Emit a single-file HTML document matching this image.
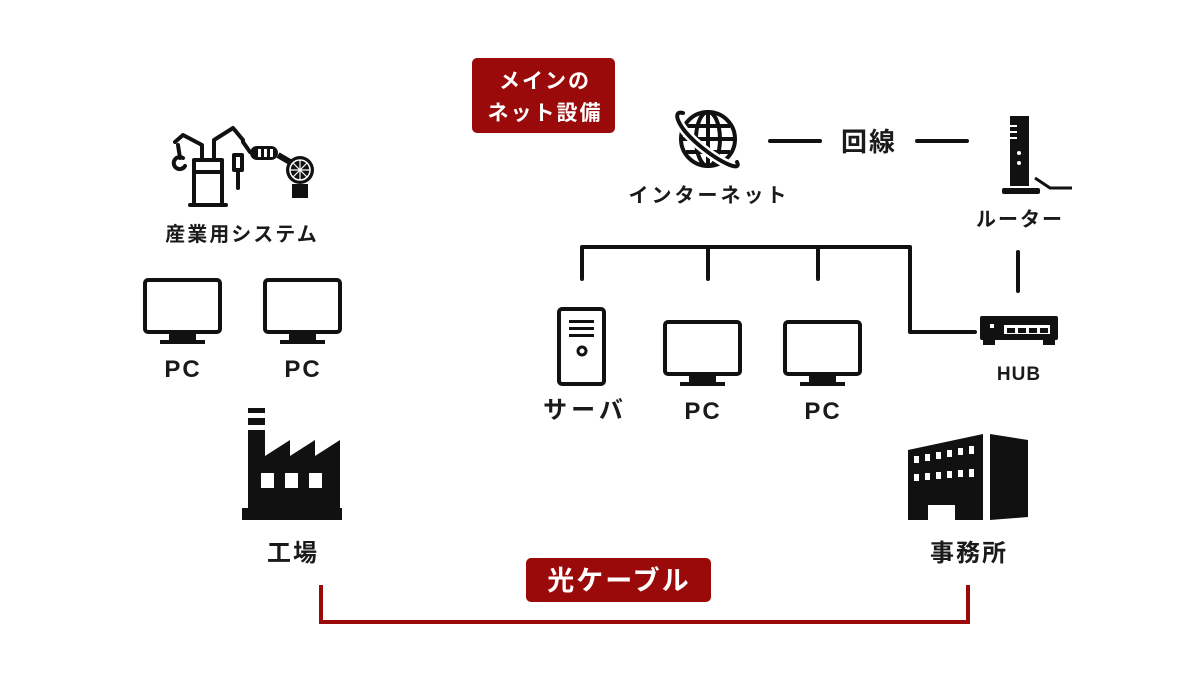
<!DOCTYPE html>
<html><head><meta charset="utf-8"><style>
html,body{margin:0;padding:0;background:#fff}
svg{display:block}
text{font-family:"Liberation Sans","Noto Sans CJK JP",sans-serif;font-weight:bold;fill:#1a1a1a;text-anchor:middle}
.ls{letter-spacing:2px}
</style></head><body>
<svg width="1200" height="680" viewBox="0 0 1200 680" xmlns="http://www.w3.org/2000/svg">
<rect x="472" y="58" width="143" height="75" rx="5" fill="#9b0a0a"/>
<text x="545" y="88" font-size="21" class="ls" style="fill:#fff">メインの</text>
<text x="545" y="120" font-size="21" class="ls" style="fill:#fff">ネット設備</text>
<rect x="526" y="558" width="185" height="44" rx="5" fill="#9b0a0a"/>
<text x="619" y="590" font-size="27" class="ls" style="fill:#fff">光ケーブル</text>
<polyline points="321,585 321,622 968,622 968,585" fill="none" stroke="#9b0a0a" stroke-width="4"/>

<g fill="none" stroke="#111" stroke-width="4" stroke-linecap="round" stroke-linejoin="round">
<rect x="194" y="160" width="28" height="45"/>
<line x1="194" y1="172" x2="222" y2="172"/>
<line x1="190" y1="205" x2="226" y2="205"/>
<path d="M202 160 V145 L183 135 L175 142"/>
<path d="M214 160 V140 L233 128 L243 140"/>
<path d="M178 145 L180 158 M183 158 a6 6 0 1 0 2 8"/>
<rect x="234" y="155" width="8" height="15"/>
<line x1="238" y1="170" x2="238" y2="188"/>
<line x1="243" y1="142" x2="250" y2="152"/>
</g>
<rect x="250" y="146" width="28" height="14" rx="7" fill="#111"/>
<rect x="258" y="149" width="3" height="8" fill="#fff"/><rect x="264" y="149" width="3" height="8" fill="#fff"/><rect x="270" y="149" width="3" height="8" fill="#fff"/>
<line x1="278" y1="155" x2="290" y2="162" stroke="#111" stroke-width="6"/>
<circle cx="300" cy="170" r="14" fill="#111"/>
<circle cx="300" cy="170" r="10" fill="none" stroke="#fff" stroke-width="1.5"/>
<g stroke="#fff" stroke-width="1.2"><line x1="290" y1="170" x2="310" y2="170"/><line x1="300" y1="160" x2="300" y2="180"/><line x1="293" y1="163" x2="307" y2="177"/><line x1="307" y1="163" x2="293" y2="177"/></g>
<rect x="292" y="184" width="16" height="14" fill="#111"/>
<text x="242" y="241" font-size="20" class="ls">産業用システム</text>

<g id="mon">
<rect x="145" y="280" width="75" height="52" rx="3" fill="none" stroke="#111" stroke-width="4"/>
<rect x="169" y="334" width="27" height="6" fill="#111"/>
<rect x="160" y="340" width="45" height="4" fill="#111"/>
</g>
<use href="#mon" x="120"/>
<use href="#mon" x="520" y="42"/>
<use href="#mon" x="640" y="42"/>
<text x="183" y="377" font-size="24" class="ls">PC</text>
<text x="303" y="377" font-size="24" class="ls">PC</text>
<text x="703" y="419" font-size="24" class="ls">PC</text>
<text x="823" y="419" font-size="24" class="ls">PC</text>

<g fill="#111">
<rect x="248" y="408" width="17" height="5"/>
<rect x="248" y="418" width="17" height="7"/>
<path d="M248 430 H265 V456 L290 440 V456 L315 440 V456 L340 440 V510 H248 Z"/>
<rect x="242" y="508" width="100" height="12"/>
</g>
<g fill="#fff"><rect x="261" y="473" width="13" height="15"/><rect x="285" y="473" width="13" height="15"/><rect x="309" y="473" width="13" height="15"/></g>
<text x="293" y="561" font-size="24" class="ls">工場</text>

<g fill="#111">
<path d="M908 450 L983 434 V520 H955 V505 H928 V520 H908 Z"/>
<path d="M990 434 L1028 440 V517 L990 520 Z"/>
</g>
<g fill="#fff">
<rect x="914" y="456" width="5" height="7"/><rect x="925" y="454" width="5" height="7"/><rect x="936" y="452" width="5" height="7"/><rect x="947" y="450" width="5" height="7"/><rect x="958" y="448" width="5" height="7"/><rect x="969" y="446" width="5" height="8"/>
<rect x="914" y="474" width="5" height="7"/><rect x="925" y="473" width="5" height="7"/><rect x="936" y="472" width="5" height="7"/><rect x="947" y="471" width="5" height="7"/><rect x="958" y="470" width="5" height="7"/><rect x="969" y="469" width="5" height="8"/>
</g>
<text x="969" y="561" font-size="24" class="ls">事務所</text>

<g fill="none" stroke="#111" stroke-width="4">
<circle cx="708" cy="139" r="27"/>
<ellipse cx="708" cy="139" rx="12" ry="27"/>
<line x1="708" y1="112" x2="708" y2="166"/>
<line x1="681" y1="139" x2="735" y2="139"/>
<line x1="686" y1="126" x2="730" y2="126"/>
<line x1="686" y1="152" x2="730" y2="152"/>
</g>
<path d="M683 113 C672 110 676 126 700 146 C722 164 742 172 737 162" fill="none" stroke="#fff" stroke-width="9"/>
<path d="M683 113 C672 110 676 126 700 146 C722 164 742 172 737 162" fill="none" stroke="#111" stroke-width="4" stroke-linecap="round"/>
<text x="709" y="202" font-size="20" style="letter-spacing:3px">インターネット</text>

<line x1="770" y1="141" x2="820" y2="141" stroke="#111" stroke-width="4" stroke-linecap="round"/>
<line x1="917" y1="141" x2="967" y2="141" stroke="#111" stroke-width="4" stroke-linecap="round"/>
<text x="869" y="151" font-size="26" class="ls">回線</text>

<rect x="1010" y="116" width="19" height="70" fill="#111"/>
<g fill="#fff"><rect x="1010" y="125" width="7" height="2"/><rect x="1010" y="131" width="7" height="2"/><rect x="1010" y="137" width="7" height="2"/><circle cx="1019" cy="153" r="2"/><circle cx="1019" cy="163" r="2"/></g>
<rect x="1002" y="188" width="38" height="6" rx="2" fill="#111"/>
<polyline points="1035,178 1050,188 1072,188" fill="none" stroke="#111" stroke-width="3"/>
<text x="1020" y="226" font-size="20" class="ls">ルーター</text>
<line x1="1018" y1="252" x2="1018" y2="291" stroke="#111" stroke-width="4" stroke-linecap="round"/>

<rect x="980" y="316" width="78" height="24" rx="2" fill="#111"/>
<rect x="983" y="340" width="12" height="5" fill="#111"/><rect x="1043" y="340" width="12" height="5" fill="#111"/>
<rect x="990" y="324" width="4" height="4" fill="#fff"/>
<rect x="1004" y="325" width="46" height="9" fill="#fff"/>
<g fill="#111"><rect x="1007" y="328" width="8" height="5"/><rect x="1018" y="328" width="8" height="5"/><rect x="1029" y="328" width="8" height="5"/><rect x="1040" y="328" width="8" height="5"/></g>
<text x="1019" y="380" font-size="19" style="letter-spacing:1px">HUB</text>

<g fill="none" stroke="#111" stroke-width="4" stroke-linecap="round" stroke-linejoin="round">
<polyline points="582,279 582,247 910,247 910,332 975,332"/>
<line x1="708" y1="247" x2="708" y2="279"/>
<line x1="818" y1="247" x2="818" y2="279"/>
</g>

<rect x="559" y="309" width="45" height="75" rx="3" fill="none" stroke="#111" stroke-width="4"/>
<g fill="#111"><rect x="569" y="320" width="25" height="3"/><rect x="569" y="327" width="25" height="3"/><rect x="569" y="334" width="25" height="3"/></g>
<circle cx="582" cy="351" r="4" fill="none" stroke="#111" stroke-width="3"/>
<text x="585" y="418" font-size="24" style="letter-spacing:4px">サーバ</text>
</svg>
</body></html>
